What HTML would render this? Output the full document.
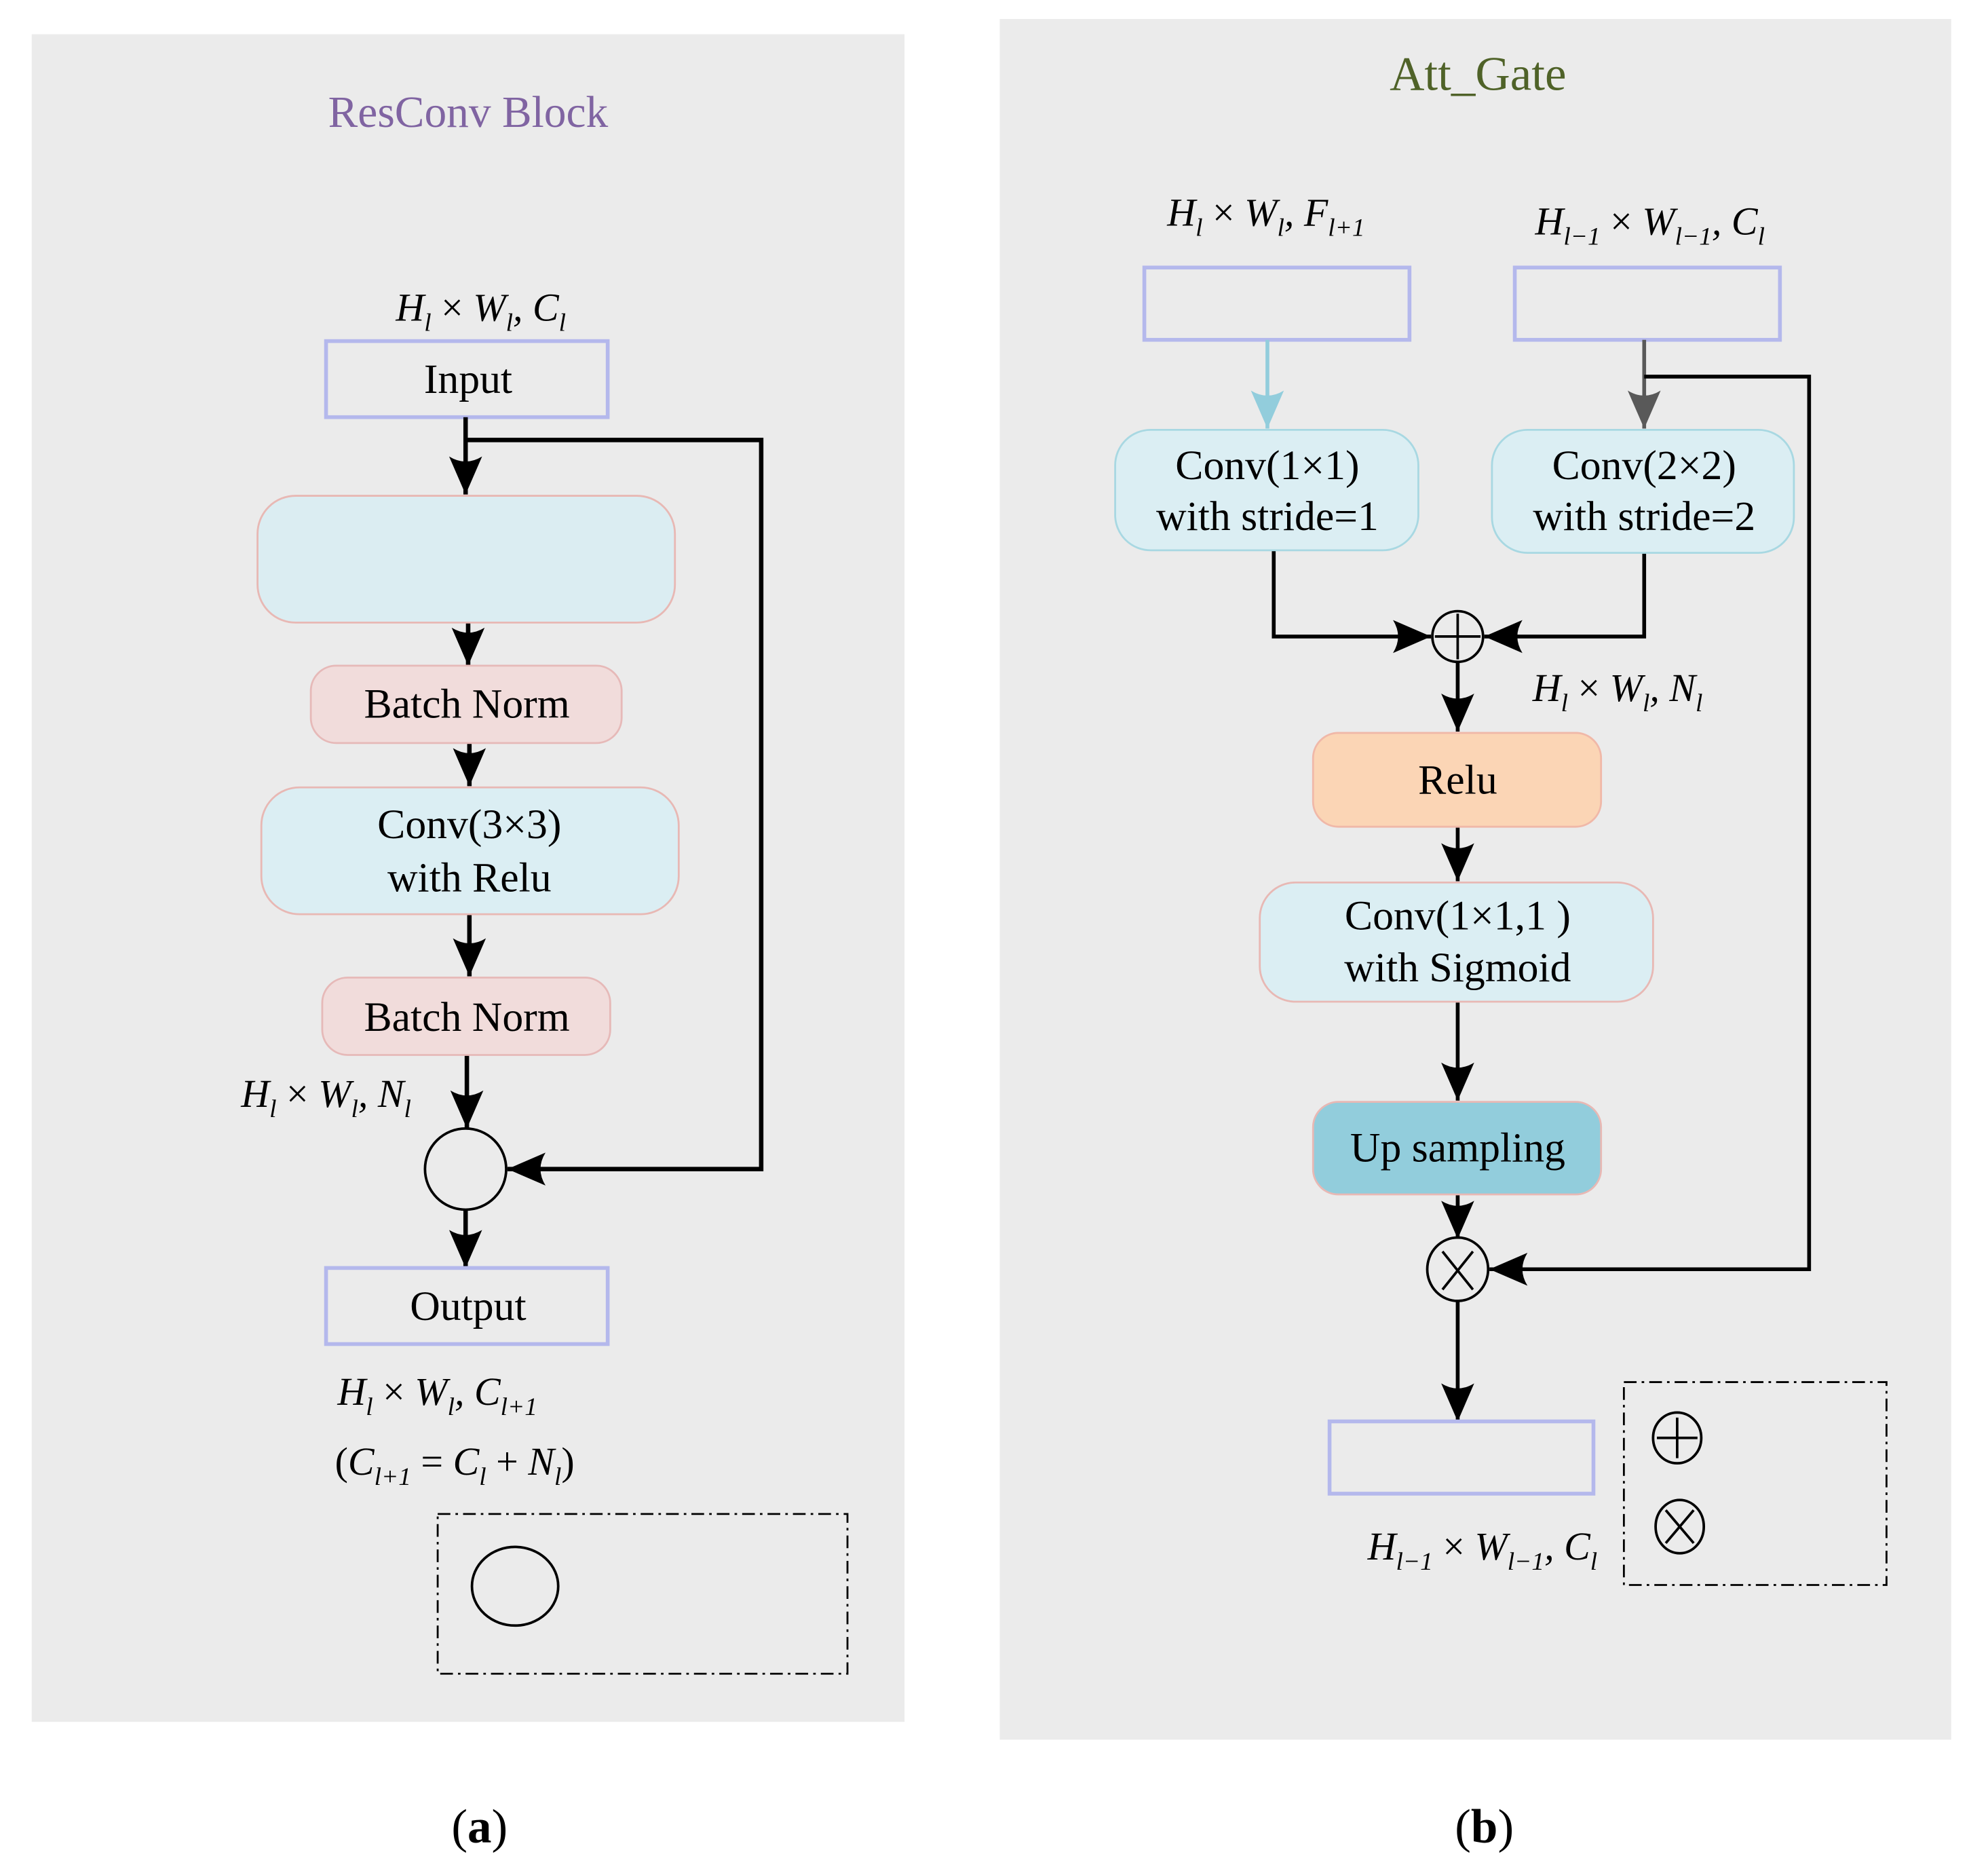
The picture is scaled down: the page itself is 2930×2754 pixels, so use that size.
<!DOCTYPE html>
<html><head><meta charset="utf-8"><style>
html,body{margin:0;padding:0;background:#fff;}
svg{display:block;}
text{font-family:"Liberation Serif",serif;}
.t{font-size:33px;text-anchor:middle;fill:#000;}
.m{font-size:31px;font-style:italic;fill:#000;}
.s{font-size:20px;}
</style></head><body>
<svg width="2930" height="2754" viewBox="0 0 1567 1474" preserveAspectRatio="none" xmlns="http://www.w3.org/2000/svg">
<defs>
<marker id="a" markerUnits="userSpaceOnUse" markerWidth="34" markerHeight="30" refX="30" refY="15" orient="auto">
<path d="M0,2 L30,15 L0,28 Q8,15 0,2 Z" fill="#000"/></marker>
<marker id="ab" markerUnits="userSpaceOnUse" markerWidth="34" markerHeight="30" refX="30" refY="15" orient="auto">
<path d="M0,2 L30,15 L0,28 Q8,15 0,2 Z" fill="#92cddc"/></marker>
<marker id="ag" markerUnits="userSpaceOnUse" markerWidth="34" markerHeight="30" refX="30" refY="15" orient="auto">
<path d="M0,2 L30,15 L0,28 Q8,15 0,2 Z" fill="#595959"/></marker>
</defs>
<rect x="0" y="0" width="1567" height="1474" fill="#fff"/>
<rect x="25" y="27" width="688" height="1331" fill="#ebebeb"/>
<rect x="788" y="15" width="750" height="1357" fill="#ebebeb"/>

<!-- LEFT -->
<text x="369" y="100" class="t" style="font-size:35px;fill:#8064a2">ResConv Block</text>
<text x="312" y="253" class="m">H<tspan class="s" dy="8">l</tspan><tspan dy="-8" style="font-style:normal"> × </tspan>W<tspan class="s" dy="8">l</tspan><tspan dy="-8">, C</tspan><tspan class="s" dy="8">l</tspan></text>
<rect x="257" y="269" width="222" height="60" fill="none" stroke="#b4b8ec" stroke-width="3"/>
<text x="369" y="310" class="t">Input</text>
<g stroke="#000" stroke-width="3.5" fill="none">
<line x1="367" y1="329" x2="367" y2="390" marker-end="url(#a)"/>
<polyline points="367,347 600,347 600,922 400,922" marker-end="url(#a)"/>
<line x1="369" y1="491" x2="369" y2="525" marker-end="url(#a)"/>
<line x1="370" y1="586" x2="370" y2="620" marker-end="url(#a)"/>
<line x1="370" y1="721" x2="370" y2="770" marker-end="url(#a)"/>
<line x1="368" y1="832" x2="368" y2="890" marker-end="url(#a)"/>
<line x1="367" y1="954" x2="367" y2="1000" marker-end="url(#a)"/>
</g>
<rect x="203" y="391" width="329" height="100" rx="30" fill="#dbedf2" stroke="#e8b8b4" stroke-width="1.5"/>
<rect x="245" y="525" width="245" height="61" rx="20" fill="#f1dcdb" stroke="#e6b9b8" stroke-width="1.5"/>
<text x="368" y="566" class="t">Batch Norm</text>
<rect x="206" y="621" width="329" height="100" rx="30" fill="#dbeef3" stroke="#e8b8b4" stroke-width="1.5"/>
<text x="370" y="661" class="t">Conv(3×3)</text>
<text x="370" y="703" class="t">with Relu</text>
<rect x="254" y="771" width="227" height="61" rx="20" fill="#f1dcdb" stroke="#e6b9b8" stroke-width="1.5"/>
<text x="368" y="813" class="t">Batch Norm</text>
<text x="190" y="873" class="m">H<tspan class="s" dy="8">l</tspan><tspan dy="-8" style="font-style:normal"> × </tspan>W<tspan class="s" dy="8">l</tspan><tspan dy="-8">, N</tspan><tspan class="s" dy="8">l</tspan></text>
<circle cx="367" cy="922" r="32" fill="none" stroke="#000" stroke-width="2"/>
<rect x="257" y="1000" width="222" height="60" fill="none" stroke="#b4b8ec" stroke-width="3"/>
<text x="369" y="1041" class="t">Output</text>
<text x="266" y="1108" class="m">H<tspan class="s" dy="8">l</tspan><tspan dy="-8" style="font-style:normal"> × </tspan>W<tspan class="s" dy="8">l</tspan><tspan dy="-8">, C</tspan><tspan class="s" dy="8">l+1</tspan></text>
<text x="264" y="1163" class="m"><tspan style="font-style:normal">(</tspan>C<tspan class="s" dy="8">l+1</tspan><tspan dy="-8" style="font-style:normal"> = </tspan>C<tspan class="s" dy="8">l</tspan><tspan dy="-8" style="font-style:normal"> + </tspan>N<tspan class="s" dy="8">l</tspan><tspan dy="-8" style="font-style:normal">)</tspan></text>
<rect x="345" y="1194" width="323" height="126" fill="none" stroke="#000" stroke-width="1.5" stroke-dasharray="10,4,2,4"/>
<ellipse cx="406" cy="1251" rx="34" ry="31" fill="none" stroke="#000" stroke-width="2"/>

<!-- RIGHT -->
<text x="1165" y="71" class="t" style="font-size:38px;fill:#4f6228">Att_Gate</text>
<text x="920" y="178" class="m">H<tspan class="s" dy="8">l</tspan><tspan dy="-8" style="font-style:normal"> × </tspan>W<tspan class="s" dy="8">l</tspan><tspan dy="-8">, F</tspan><tspan class="s" dy="8">l+1</tspan></text>
<text x="1210" y="185" class="m">H<tspan class="s" dy="8">l−1</tspan><tspan dy="-8" style="font-style:normal"> × </tspan>W<tspan class="s" dy="8">l−1</tspan><tspan dy="-8">, C</tspan><tspan class="s" dy="8">l</tspan></text>
<rect x="902" y="211" width="209" height="57" fill="none" stroke="#b4b8ec" stroke-width="3"/>
<rect x="1194" y="211" width="209" height="57" fill="none" stroke="#b4b8ec" stroke-width="3"/>
<line x1="999" y1="268" x2="999" y2="338" stroke="#92cddc" stroke-width="3" marker-end="url(#ab)"/>
<line x1="1296" y1="268" x2="1296" y2="338" stroke="#595959" stroke-width="3" marker-end="url(#ag)"/>
<g stroke="#000" stroke-width="3" fill="none">
<polyline points="1296,297 1426,297 1426,1001 1174,1001" marker-end="url(#a)"/>
<polyline points="1004,434 1004,502 1128,502" marker-end="url(#a)"/>
<polyline points="1296,434 1296,502 1170,502" marker-end="url(#a)"/>
<line x1="1149" y1="522" x2="1149" y2="577" marker-end="url(#a)"/>
<line x1="1149" y1="652" x2="1149" y2="695" marker-end="url(#a)"/>
<line x1="1149" y1="790" x2="1149" y2="868" marker-end="url(#a)"/>
<line x1="1149" y1="942" x2="1149" y2="977" marker-end="url(#a)"/>
<line x1="1149" y1="1025" x2="1149" y2="1121" marker-end="url(#a)"/>
</g>
<rect x="879" y="339" width="239" height="95" rx="28" fill="#dbeef3" stroke="#a8d8e2" stroke-width="1.5"/>
<text x="999" y="378" class="t">Conv(1×1)</text>
<text x="999" y="418" class="t">with stride=1</text>
<rect x="1176" y="339" width="238" height="97" rx="28" fill="#dbeef3" stroke="#a8d8e2" stroke-width="1.5"/>
<text x="1296" y="378" class="t">Conv(2×2)</text>
<text x="1296" y="418" class="t">with stride=2</text>
<circle cx="1149" cy="502" r="20" fill="none" stroke="#000" stroke-width="2"/>
<line x1="1131" y1="502" x2="1167" y2="502" stroke="#000" stroke-width="2"/>
<line x1="1149" y1="484" x2="1149" y2="520" stroke="#000" stroke-width="2"/>
<text x="1208" y="553" class="m">H<tspan class="s" dy="8">l</tspan><tspan dy="-8" style="font-style:normal"> × </tspan>W<tspan class="s" dy="8">l</tspan><tspan dy="-8">, N</tspan><tspan class="s" dy="8">l</tspan></text>
<rect x="1035" y="578" width="227" height="74" rx="20" fill="#fbd5b5" stroke="#f0b8a8" stroke-width="1.5"/>
<text x="1149" y="626" class="t">Relu</text>
<rect x="993" y="696" width="310" height="94" rx="28" fill="#dbeef3" stroke="#e8b8b4" stroke-width="1.5"/>
<text x="1149" y="733" class="t">Conv(1×1,1 )</text>
<text x="1149" y="774" class="t">with Sigmoid</text>
<rect x="1035" y="869" width="227" height="73" rx="20" fill="#92cddc" stroke="#e8b8b4" stroke-width="1.5"/>
<text x="1149" y="916" class="t">Up sampling</text>
<ellipse cx="1149" cy="1001" rx="24" ry="25" fill="none" stroke="#000" stroke-width="2"/>
<line x1="1137" y1="987" x2="1161" y2="1017" stroke="#000" stroke-width="2"/>
<line x1="1161" y1="987" x2="1137" y2="1017" stroke="#000" stroke-width="2"/>
<rect x="1048" y="1121" width="208" height="57" fill="none" stroke="#b4b8ec" stroke-width="3"/>
<text x="1078" y="1230" class="m">H<tspan class="s" dy="8">l−1</tspan><tspan dy="-8" style="font-style:normal"> × </tspan>W<tspan class="s" dy="8">l−1</tspan><tspan dy="-8">, C</tspan><tspan class="s" dy="8">l</tspan></text>
<rect x="1280" y="1090" width="207" height="160" fill="none" stroke="#000" stroke-width="1.5" stroke-dasharray="10,4,2,4"/>
<ellipse cx="1322" cy="1134" rx="19" ry="20" fill="none" stroke="#000" stroke-width="2"/>
<line x1="1306" y1="1134" x2="1338" y2="1134" stroke="#000" stroke-width="2"/>
<line x1="1322" y1="1118" x2="1322" y2="1150" stroke="#000" stroke-width="2"/>
<ellipse cx="1324" cy="1204" rx="19" ry="21" fill="none" stroke="#000" stroke-width="2"/>
<line x1="1313" y1="1191" x2="1335" y2="1217" stroke="#000" stroke-width="2"/>
<line x1="1335" y1="1191" x2="1313" y2="1217" stroke="#000" stroke-width="2"/>

<text x="378" y="1453" class="t" style="font-size:38px">(<tspan font-weight="bold">a</tspan>)</text>
<text x="1170" y="1453" class="t" style="font-size:38px">(<tspan font-weight="bold">b</tspan>)</text>
</svg>
</body></html>
